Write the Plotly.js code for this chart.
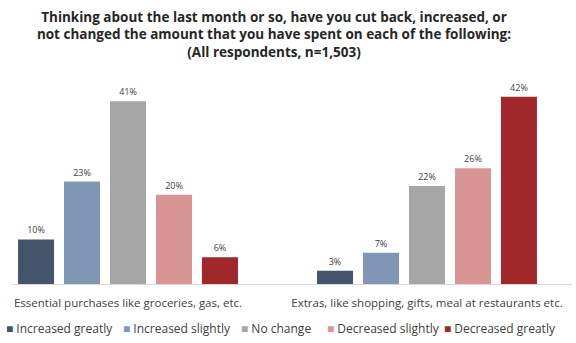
<!DOCTYPE html>
<html>
<head>
<meta charset="utf-8">
<script src="https://cdn.plot.ly/plotly-3.0.1.min.js"></script>
<style>html,body{margin:0;padding:0;background:#fff;}#chart{width:576px;height:343px;}</style>
</head>
<body>
<div id="chart"></div>
<script>
const categories = ["Essential purchases like groceries, gas, etc.", "Extras, like shopping, gifts, meal at restaurants etc."];
const seriesNames = ["Increased greatly", "Increased slightly", "No change", "Decreased slightly", "Decreased greatly"];
const increasedGreatly = [10, 3];
const increasedSlightly = [23, 7];
const noChange = [41, 22];
const decreasedSlightly = [20, 26];
const decreasedGreatly = [6, 42];
const seriesValues = [increasedGreatly, increasedSlightly, noChange, decreasedSlightly, decreasedGreatly];
const colors = ["#44546A", "#7F96B4", "#A6A6A6", "#D99594", "#A0282B"];
const FONT = "'Open Sans', sans-serif";

const traces = seriesNames.map((name, i) => ({
  type: "bar",
  name: name,
  x: categories,
  y: seriesValues[i],
  marker: {color: colors[i]},
  text: seriesValues[i].map(v => v + "%"),
  textposition: "outside",
  cliponaxis: false,
  textfont: {family: FONT, size: 9, color: "#404040"},
  hoverinfo: "skip",
  showlegend: false
}));

// legend drawn as text entries positioned along the bottom
const legendPx = [4, 121, 239, 325, 442];
const legendAnn = seriesNames.map((name, i) => ({
  xref: "paper", yref: "paper",
  x: (legendPx[i] - 12) / 560, y: 0, yshift: -44,
  xanchor: "left", yanchor: "middle", showarrow: false,
  text: '<span style="color:' + colors[i] + '">■</span> ' + name,
  font: {family: FONT, size: 12, color: "#404040"}
}));

const layout = {
  width: 576, height: 343,
  margin: {l: 12, r: 4, t: 75, b: 59},
  paper_bgcolor: "#fff", plot_bgcolor: "#fff",
  font: {family: FONT, color: "#333"},
  title: {
    text: "<b>Thinking about the last month or so, have you cut back, increased, or<br>not changed the amount that you have spent on each of the following:<br>(All respondents, n=1,503)</b>",
    x: 274/576, xanchor: "center", y: 0.937, yanchor: "top",
    font: {family: FONT, size: 13.5, color: "#262626"}
  },
  barmode: "group",
  bargap: 0.231,
  bargroupgap: 0.217,
  xaxis: {
    type: "category",
    range: [-0.388, 1.485],
    showline: true, linecolor: "#D9D9D9", linewidth: 1,
    showticklabels: true, ticks: "", ticklabelstandoff: 8,
    tickfont: {family: FONT, size: 11.5, color: "#404040"},
    showgrid: false, zeroline: false, fixedrange: true
  },
  yaxis: {range: [0, 46.9], visible: false, fixedrange: true},
  showlegend: false,
  annotations: legendAnn
};

Plotly.newPlot("chart", traces, layout, {displayModeBar: false, staticPlot: true});
</script>
</body>
</html>
